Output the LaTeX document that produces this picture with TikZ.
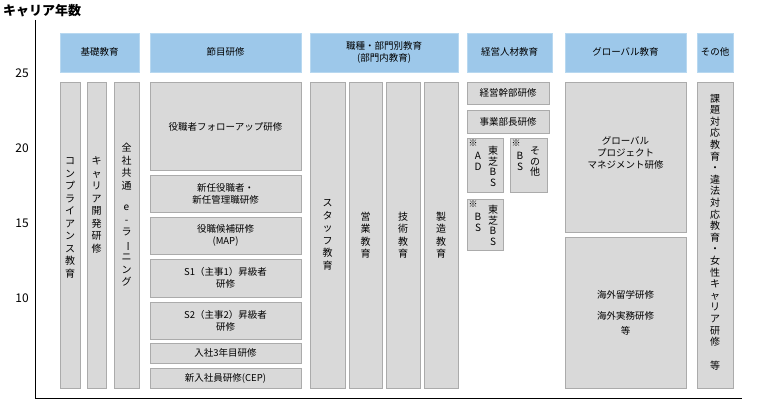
\documentclass[tikz,border=0pt]{standalone}
\usepackage{fontspec}
\setmainfont{Noto Sans CJK JP}
\newcommand\vbar{\rotatebox[origin=c]{-90}{ー}}
\begin{document}
\begin{tikzpicture}[x=1pt,y=-1pt,
  hdr/.style={fill=hdrblue,draw=hdrline,line width=0.6pt},
  gbox/.style={fill=boxgray,draw=boxline,line width=0.8pt},
  lbl/.style={font=\fontsize{9.5}{12}\selectfont,align=center,inner sep=0pt},
  vt/.style={font=\fontsize{10}{12.5}\selectfont,align=center,inner sep=0pt},
  st/.style={font=\fontsize{10}{10.5}\selectfont,align=center,inner sep=0pt},
  ax/.style={font=\fontsize{12}{14}\selectfont,inner sep=0pt}]
\definecolor{hdrblue}{HTML}{9DC8EA}
\definecolor{hdrline}{HTML}{B8D8F0}
\definecolor{boxgray}{HTML}{D9D9D9}
\definecolor{boxline}{HTML}{ABABAB}
\useasboundingbox (0,0) rectangle (758,406);
\node[anchor=west,font=\bfseries\fontsize{13}{15}\selectfont,inner sep=0pt] (title) at (3,11) {キャリア年数};
\coordinate (top) at (35,20);
\coordinate (org) at (35,398);
\coordinate (right) at (742,398);
\draw[line width=0.8pt] (top) -- (org) -- (right);
\node[ax] (y25) at (22,73) {25};
\node[ax] (y20) at (22,148) {20};
\node[ax] (y15) at (22,223) {15};
\node[ax] (y10) at (22,298) {10};
% headers
\draw[hdr] (60,33) rectangle (139,72); \node[lbl] (h1) at (99.5,52) {基礎教育};
\draw[hdr] (150,33) rectangle (301,72); \node[lbl] (h2) at (225.5,52) {節目研修};
\draw[hdr] (310,33) rectangle (458,72); \node[lbl] (h3) at (384,52) {職種・部門別教育\\(部門内教育)};
\draw[hdr] (467,33) rectangle (552,72); \node[lbl] (h4) at (509.5,52) {経営人材教育};
\draw[hdr] (565,33) rectangle (686,72); \node[lbl] (h5) at (625.5,52) {グローバル教育};
\draw[hdr] (697,33) rectangle (733,72); \node[lbl] (h6) at (715,52) {その他};
% basic
\draw[gbox] (60,82) rectangle (80,388); \node[vt] (b1) at (70,218) {コ\\ン\\プ\\ラ\\イ\\ア\\ン\\ス\\教\\育};
\draw[gbox] (87,82) rectangle (106,388); \node[vt] (b2) at (96.5,205) {キ\\ャ\\リ\\ア\\開\\発\\研\\修};
\draw[gbox] (114,82) rectangle (139,388); \node[vt] (b3) at (126.5,215) {全\\社\\共\\通\\[9pt]e\\-\\ラ\\\vbar\\ニ\\ン\\グ};
% milestones
\draw[gbox] (150,82) rectangle (301,170); \node[lbl] (m1) at (225.5,127) {役職者フォローアップ研修};
\draw[gbox] (150,175) rectangle (301,212); \node[lbl] (m2) at (225.5,193.5) {新任役職者・\\新任管理職研修};
\draw[gbox] (150,217) rectangle (301,254); \node[lbl] (m3) at (225.5,235.5) {役職候補研修\\(MAP)};
\draw[gbox] (150,259) rectangle (301,297); \node[lbl] (m4) at (225.5,278) {S1（主事1）昇級者\\研修};
\draw[gbox] (150,302) rectangle (301,339); \node[lbl] (m5) at (225.5,320.5) {S2（主事2）昇級者\\研修};
\draw[gbox] (150,343) rectangle (301,363); \node[lbl] (m6) at (225.5,353) {入社3年目研修};
\draw[gbox] (150,368) rectangle (301,388); \node[lbl] (m7) at (225.5,378) {新入社員研修(CEP)};
% job
\draw[gbox] (310,82) rectangle (345,388); \node[vt] (j1) at (327.5,235) {ス\\タ\\ッ\\フ\\教\\育};
\draw[gbox] (349,82) rectangle (382,388); \node[vt] (j2) at (365.5,235) {営\\業\\教\\育};
\draw[gbox] (386,82) rectangle (420,388); \node[vt] (j3) at (403,235) {技\\術\\教\\育};
\draw[gbox] (424,82) rectangle (458,388); \node[vt] (j4) at (441,235) {製\\造\\教\\育};
% management
\draw[gbox] (467,82) rectangle (549,104); \node[lbl] (k1) at (508,93) {経営幹部研修};
\draw[gbox] (467,110) rectangle (549,133); \node[lbl] (k2) at (508,121.5) {事業部長研修};
\draw[gbox] (467,138) rectangle (503,192);
\node[font=\fontsize{9}{10}\selectfont,inner sep=0pt] (k3a) at (473,143) {※};
\node[st,anchor=north] (k3b) at (478,152) {A\\D};
\node[st,anchor=north] (k3c) at (493,146) {東\\芝\\B\\S};
\draw[gbox] (510,138) rectangle (547,192);
\node[font=\fontsize{9}{10}\selectfont,inner sep=0pt] (k4a) at (516,143) {※};
\node[st,anchor=north] (k4b) at (520,152) {B\\S};
\node[st,anchor=north] (k4c) at (535,147) {そ\\の\\他};
\draw[gbox] (467,199) rectangle (503,250);
\node[font=\fontsize{9}{10}\selectfont,inner sep=0pt] (k5a) at (473,204) {※};
\node[st,anchor=north] (k5b) at (478,213) {B\\S};
\node[st,anchor=north] (k5c) at (493,205) {東\\芝\\B\\S};
% global
\draw[gbox] (565,82) rectangle (686,232); \node[lbl] (g1) at (625.5,153) {グローバル\\プロジェクト\\マネジメント研修};
\draw[gbox] (565,237) rectangle (686,388); \node[lbl,font=\fontsize{9.5}{15}\selectfont] (g2) at (625.5,313) {海外留学研修\\[6pt]海外実務研修\\等};
% other
\draw[gbox] (697,82) rectangle (733,388);
\node[vt,font=\fontsize{10}{11.6}\selectfont] (o1) at (715,232) {課\\題\\対\\応\\教\\育\\・\\違\\法\\対\\応\\教\\育\\・\\女\\性\\キ\\ャ\\リ\\ア\\研\\修\\[12pt]等};
\end{tikzpicture}
\end{document}
